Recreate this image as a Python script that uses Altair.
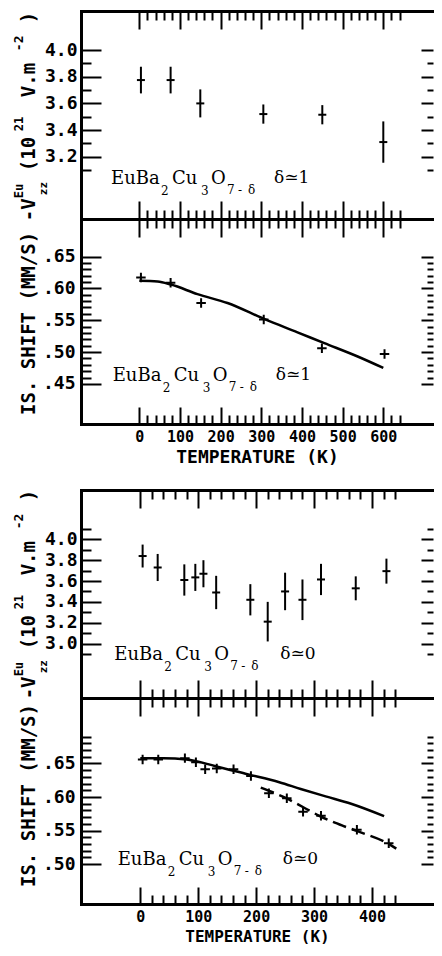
import altair as alt
import pandas as pd

# ---------------- data : delta ~ 1 (upper figure) ----------------
T_efg1 = [4, 77, 150, 305, 450, 600]
V_efg1 = [3.775, 3.775, 3.60, 3.52, 3.515, 3.31]
E_efg1 = [0.10, 0.10, 0.105, 0.072, 0.072, 0.155]
T_is1 = [4, 77, 152, 306, 449, 603]
IS_is1 = [0.617, 0.609, 0.577, 0.551, 0.506, 0.497]
T_fit1 = [0, 45, 78, 143, 217, 307, 389, 455, 537, 600]
IS_fit1 = [0.612, 0.611, 0.606, 0.591, 0.577, 0.552, 0.531, 0.514, 0.493, 0.475]

# ---------------- data : delta ~ 0 (lower figure) ----------------
T_efg0 = [4, 30, 76, 95, 109, 131, 190, 220, 250, 280, 312, 372, 425]
V_efg0 = [3.84, 3.73, 3.61, 3.635, 3.67, 3.49, 3.42, 3.21, 3.50, 3.42, 3.615, 3.53, 3.695]
E_efg0 = [0.11, 0.13, 0.15, 0.13, 0.13, 0.16, 0.15, 0.19, 0.18, 0.195, 0.15, 0.115, 0.12]
T_is0 = [4, 31, 77, 96, 112, 132, 161, 191, 222, 253, 281, 312, 374, 429]
IS_is0 = [0.656, 0.656, 0.658, 0.652, 0.6415, 0.6425, 0.6415, 0.6315, 0.6055, 0.598,
          0.578, 0.572, 0.551, 0.531]
T_fit0 = [0, 40, 80, 130, 185, 240, 277, 320, 364, 421]
IS_fit0 = [0.658, 0.658, 0.656, 0.646, 0.634, 0.622, 0.612, 0.601, 0.590, 0.5715]
T_fit0b = [208, 250, 283, 309, 350, 375, 429, 442]
IS_fit0b = [0.614, 0.599, 0.584, 0.572, 0.557, 0.549, 0.530, 0.523]

# ---------------- ticks / labels ----------------
X_MAJOR_1 = [0, 100, 200, 300, 400, 500, 600]
X_MINOR_1 = [t for t in range(20, 641, 20) if t % 100]
X_MAJOR_0 = [0, 100, 200, 300, 400]
X_MINOR_0 = [t for t in range(20, 441, 20) if t % 100]
Y_EFG_MAJOR_1 = [3.2, 3.4, 3.6, 3.8, 4.0]
Y_EFG_MINOR_1 = [3.1, 3.3, 3.5, 3.7, 3.9]
Y_EFG_MAJOR_0 = [3.0, 3.2, 3.4, 3.6, 3.8, 4.0]
Y_EFG_MINOR_0 = [2.9, 3.1, 3.3, 3.5, 3.7, 3.9, 4.1]
Y_IS_MAJOR_1 = [0.45, 0.50, 0.55, 0.60, 0.65]
Y_IS_MINOR_1 = [round(0.45 + 0.01 * i, 2) for i in range(21) if i % 5]
Y_IS_MAJOR_0 = [0.50, 0.55, 0.60, 0.65]
Y_IS_MINOR_0 = [round(0.50 + 0.01 * i, 2) for i in range(20) if i % 5]

X_TITLE = "TEMPERATURE (K)"
Y_TITLE_IS = "IS. SHIFT (MM/S)"
Y_TITLE_EFG = ["-V", "Eu", "zz", "(10", "21", "V.m", "-2", ")"]
FORMULA = ["EuBa", "2", "Cu", "3", "O", "7", "-", "\u03b4"]
DELTA1 = "\u03b4\u22431"
DELTA0 = "\u03b4\u22430"

# ---------------- layout / style ----------------
BLACK = "#000000"
MONO = "DejaVu Sans Mono"
SERIF = "DejaVu Serif"
W = 352
H_E1, H_I1, H_E0, H_I0 = 208, 205, 208, 206
GAP = 66

X_DOM_1 = [-143.35, 722.2]
X_DOM_0 = [-102.4, 505.4]
Y_EFG_DOM_1 = [2.733, 4.293]
Y_IS_DOM_1 = [0.387, 0.709]
Y_EFG_DOM_0 = [2.477, 4.474]
Y_IS_DOM_0 = [0.4404, 0.7477]

# text piece layout: (dx along reading, dy, font size, family)
FORMULA_LAYOUT = [(0, 0, 18, SERIF), (50, 11, 12, SERIF), (61, 0, 18, SERIF), (90, 11, 12, SERIF),
                  (100, 0, 18, SERIF), (116, 10, 12, SERIF), (127, 10, 12, SERIF), (137, 10, 12, SERIF)]
TITLE_EFG_LAYOUT = [(0, 0, 19), (23, -12, 12), (26, 12, 11), (50, 0, 19), (90, -12, 12),
                    (124, 0, 19), (170, -12, 13), (198, 0, 19)]


def ax(orient, values, size=0, offset=0, domain=False, labels=False, label_size=17,
       label_pad=4, fmt=None, expr=None, title=None, title_pad=4, title_size=18):
    kw = dict(orient=orient, offset=offset, grid=False, domain=domain, labels=labels,
              ticks=size > 0, tickSize=size, tickWidth=2, tickColor=BLACK,
              domainWidth=3, domainColor=BLACK, domainCap="square", values=values,
              title=title)
    if labels:
        kw.update(labelFont=MONO, labelFontWeight="bold", labelFontSize=label_size,
                  labelColor=BLACK, labelPadding=label_pad, labelFlush=False,
                  labelOverlap=False)
        if fmt:
            kw["format"] = fmt
        if expr:
            kw["labelExpr"] = expr
    if title:
        kw.update(titleFont=MONO, titleFontWeight="bold", titleFontSize=title_size,
                  titleColor=BLACK, titlePadding=title_pad)
    return alt.Axis(**kw)


def spec(df, mark, xf, yf, **enc):
    return (df, mark, xf, yf, enc)


def text_specs(anchor, texts, layout, angle=None, weight="normal"):
    out = []
    df = pd.DataFrame({"T": [anchor[0]], "v": [anchor[1]]})
    for txt, lay in zip(texts, layout):
        dx, dy, fs = lay[0], lay[1], lay[2]
        fam = lay[3] if len(lay) > 3 else MONO
        kw = dict(type="text", text=txt, dx=dx, dy=dy, fontSize=fs, font=fam,
                  fontWeight=weight, align="left", baseline="alphabetic", color=BLACK)
        if angle is not None:
            kw["angle"] = angle
        out.append(spec(df, alt.MarkDef(**kw), "T", "v"))
    return out


def build(specs, xs, ys, xaxes, yaxes, H):
    charts = []
    for i, (df, mark, xf, yf, enc) in enumerate(specs):
        xa = xaxes[i] if i < len(xaxes) else None
        ya = yaxes[i] if i < len(yaxes) else None
        charts.append(alt.Chart(df, mark=mark).encode(
            x=alt.X(f"{xf}:Q", scale=xs, axis=xa),
            y=alt.Y(f"{yf}:Q", scale=ys, axis=ya), **enc))
    return (alt.layer(*charts)
            .resolve_axis(x="independent", y="independent")
            .properties(width=W, height=H))


def y_axes(ylab, ymaj, ymin, fmt=None, expr=None, pad=4):
    return [
        ax("left", ylab, 0, domain=True, labels=True, fmt=fmt, expr=expr,
           label_size=18, label_pad=pad),
        ax("right", ymaj, 20, offset=-W),
        ax("right", ymin, 10, offset=-W),
        ax("left", ymaj, 12, offset=-W),
        ax("left", ymin, 6, offset=-W),
    ]


def efg_panel(T, V, E, xdom, ydom, H, xmaj, xmin, ymaj, ymin, annot_anchor, delta_txt,
              delta_dx, title_anchor):
    df = pd.DataFrame({"T": T, "V": V, "E": E})
    df["lo"] = df["V"] - df["E"]
    df["hi"] = df["V"] + df["E"]
    xs = alt.Scale(domain=xdom, nice=False, zero=False)
    ys = alt.Scale(domain=ydom, nice=False, zero=False)
    specs = [
        spec(df, alt.MarkDef(type="rule", strokeWidth=2, color=BLACK), "T", "lo",
             y2=alt.Y2("hi:Q")),
        spec(df, alt.MarkDef(type="point", shape="M-1,0L1,0", size=64, filled=False,
                             strokeWidth=2, color=BLACK, opacity=1), "T", "V"),
    ]
    specs += text_specs(annot_anchor, FORMULA, FORMULA_LAYOUT)
    specs += text_specs(annot_anchor, [delta_txt], [(delta_dx, -1, 17, SERIF)])
    specs += text_specs(title_anchor, Y_TITLE_EFG, TITLE_EFG_LAYOUT, angle=270, weight="bold")
    xaxes = [
        ax("bottom", xmaj, 18, offset=-H, domain=True),
        ax("bottom", xmin, 9, offset=-H),
        ax("top", xmaj, 18, offset=-H, domain=True),
        ax("top", xmin, 9, offset=-H),
    ]
    yaxes = y_axes(ymaj, ymaj, ymin, fmt=".1f", pad=4)
    return build(specs, xs, ys, xaxes, yaxes, H)


def is_panel(T, IS, fits, xdom, ydom, H, xmaj, xmin, ymaj, ymin, annot_anchor, delta_txt,
             delta_dx, title_anchor, xlab_size, xlab_pad, xtitle_pad, xtitle_size):
    xs = alt.Scale(domain=xdom, nice=False, zero=False)
    ys = alt.Scale(domain=ydom, nice=False, zero=False)
    specs = []
    for (ft, fv, dash) in fits:
        dff = pd.DataFrame({"T": ft, "IS": fv})
        kw = dict(type="line", interpolate="monotone", strokeWidth=2.5, color=BLACK)
        if dash:
            kw["strokeDash"] = dash
        specs.append(spec(dff, alt.MarkDef(**kw), "T", "IS"))
    dfp = pd.DataFrame({"T": T, "IS": IS})
    specs.append(spec(dfp, alt.MarkDef(type="point", shape="M-1,0L1,0M0,-1L0,1", size=90,
                                       filled=False, strokeWidth=2, color=BLACK, opacity=1),
                      "T", "IS"))
    specs += text_specs(annot_anchor, FORMULA, FORMULA_LAYOUT)
    specs += text_specs(annot_anchor, [delta_txt], [(delta_dx, -1, 17, SERIF)])
    specs += text_specs(title_anchor, [Y_TITLE_IS], [(0, 0, 19)], angle=270, weight="bold")
    xaxes = [
        ax("bottom", xmaj, 18, offset=-H),
        ax("bottom", xmin, 9, offset=-H),
        ax("bottom", xmaj, 0, domain=True, labels=True, fmt="d", label_size=xlab_size,
           label_pad=xlab_pad, title=X_TITLE, title_pad=xtitle_pad, title_size=xtitle_size),
        ax("top", xmaj, 17, offset=-H),
        ax("top", xmin, 9, offset=-H),
    ]
    yaxes = y_axes(ymaj, ymaj, ymin,
                   expr="substring(format(datum.value, '.2f'), 1)", pad=6)
    return build(specs, xs, ys, xaxes, yaxes, H)


upper1 = efg_panel(T_efg1, V_efg1, E_efg1, X_DOM_1, Y_EFG_DOM_1, H_E1,
                   X_MAJOR_1, X_MINOR_1, Y_EFG_MAJOR_1, Y_EFG_MINOR_1,
                   annot_anchor=(-69.6, 2.995), delta_txt=DELTA1, delta_dx=163,
                   title_anchor=(-256.5, 2.717))
lower1 = is_panel(T_is1, IS_is1, [(T_fit1, IS_fit1, None)], X_DOM_1, Y_IS_DOM_1, H_I1,
                  X_MAJOR_1, X_MINOR_1, Y_IS_MAJOR_1, Y_IS_MINOR_1,
                  annot_anchor=(-65.4, 0.4552), delta_txt=DELTA1, delta_dx=163,
                  title_anchor=(-256.5, 0.4013), xlab_size=15, xlab_pad=5, xtitle_pad=4,
                  xtitle_size=18)
upper0 = efg_panel(T_efg0, V_efg0, E_efg0, X_DOM_0, Y_EFG_DOM_0, H_E0,
                   X_MAJOR_0, X_MINOR_0, Y_EFG_MAJOR_0, Y_EFG_MINOR_0,
                   annot_anchor=(-44.9, 2.839), delta_txt=DELTA0, delta_dx=166,
                   title_anchor=(-181.8, 2.464))
lower0 = is_panel(T_is0, IS_is0, [(T_fit0, IS_fit0, None), (T_fit0b, IS_fit0b, [14, 6])],
                  X_DOM_0, Y_IS_DOM_0, H_I0,
                  X_MAJOR_0, X_MINOR_0, Y_IS_MAJOR_0, Y_IS_MINOR_0,
                  annot_anchor=(-39.0, 0.4985), delta_txt=DELTA0, delta_dx=165,
                  title_anchor=(-181.8, 0.4657), xlab_size=15, xlab_pad=5, xtitle_pad=4,
                  xtitle_size=16)

spacer = (alt.Chart(pd.DataFrame({"T": [0]}))
          .mark_point(opacity=0)
          .encode(x=alt.X("T:Q", axis=None), y=alt.Y("T:Q", axis=None))
          .properties(width=W, height=GAP))

chart = (alt.vconcat(upper1, lower1, spacer, upper0, lower0, spacing=0, bounds="flush")
         .properties(padding={"left": 4, "top": 2, "right": 0, "bottom": 0},
                     background="white")
         .configure_view(stroke=None))

chart.save("out.html", embed_options={"renderer": "svg", "actions": False})
